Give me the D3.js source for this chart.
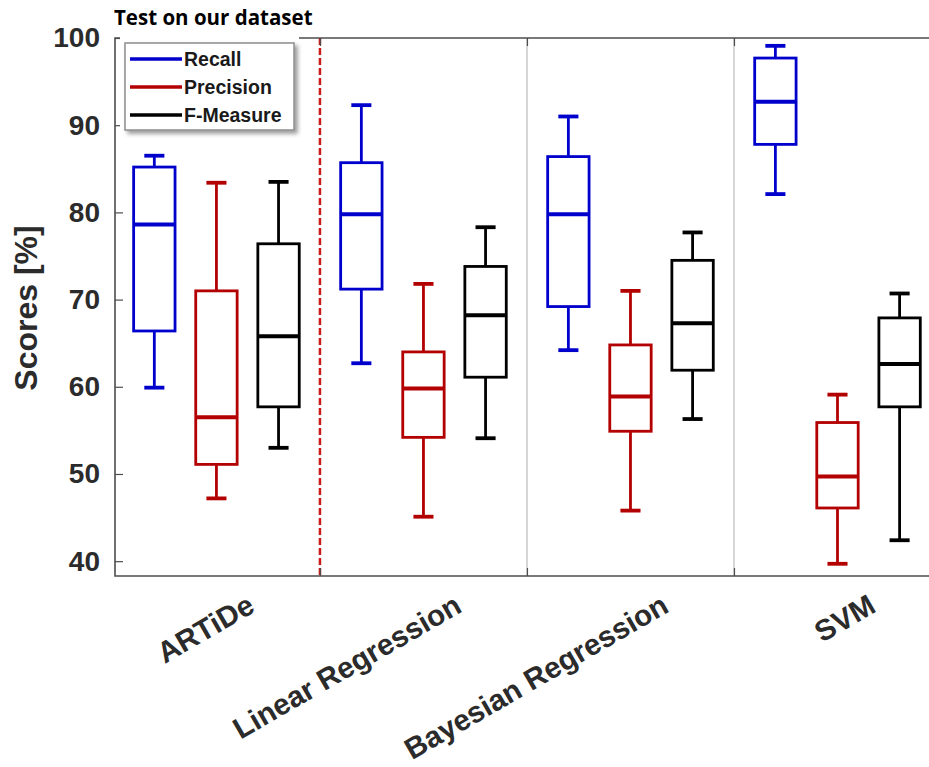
<!DOCTYPE html>
<html>
<head>
<meta charset="utf-8">
<script src="https://cdn.jsdelivr.net/npm/d3@7"></script>
<style>
  html, body { margin: 0; padding: 0; background: #fff; }
  svg { display: block; }
</style>
</head>
<body>
<svg id="chart" width="929" height="767"></svg>
<script>
// Methods compared along the x axis
const categories = ["ARTiDe", "Linear Regression", "Bayesian Regression", "SVM"];
// Metric series drawn side by side within each method
const series = ["Recall", "Precision", "F-Measure"];
// Box statistics per method: [lower whisker, Q1, median, Q3, upper whisker]
const recallStats = [
  [59.9, 66.4, 78.6, 85.2, 86.5],
  [62.7, 71.2, 79.8, 85.7, 92.3],
  [64.2, 69.2, 79.8, 86.4, 91.0],
  [82.1, 87.8, 92.7, 97.7, 99.1]
];
const precisionStats = [
  [47.2, 51.1, 56.5, 71.0, 83.4],
  [45.1, 54.2, 59.8, 64.0, 71.8],
  [45.8, 54.9, 58.9, 64.8, 71.0],
  [39.7, 46.1, 49.7, 55.9, 59.1]
];
const fMeasureStats = [
  [53.0, 57.7, 65.8, 76.4, 83.5],
  [54.1, 61.1, 68.2, 73.8, 78.3],
  [56.3, 61.9, 67.3, 74.5, 77.7],
  [42.4, 57.7, 62.6, 67.9, 70.7]
];
const yTicks = [40, 50, 60, 70, 80, 90, 100];
const titleText = "Test on our dataset";
const yLabelText = "Scores [%]";

const seriesColors = ["#0000cc", "#b30000", "#000000"];
const statsBySeries = [recallStats, precisionStats, fMeasureStats];

const svg = d3.select("#chart");
const FONT = "'Liberation Sans', Arial, Helvetica, sans-serif";

const plot = { left: 115, right: 941, top: 38, bottom: 576 };

// Group positions 1..n on a linear scale; boxes offset within each group
const x = d3.scaleLinear().domain([0.51, categories.length + 0.5]).range([plot.left, plot.right]);
const y = d3.scaleLinear().domain([38.3, 100]).range([plot.bottom, plot.top]);
const offset = d3.scalePoint().domain(series).range([-0.3, 0.3]);
const unit = x(1) - x(0);
const boxW = 0.2 * unit;
const capW = 0.097 * unit;

const defs = svg.append("defs");
const clip = defs.append("clipPath").attr("id", "plotclip");
clip.append("rect").attr("x", plot.left).attr("y", plot.top - 2)
  .attr("width", plot.right - plot.left).attr("height", plot.bottom - plot.top + 4);
const shadow = defs.append("filter").attr("id", "legshadow")
  .attr("x", "-10%").attr("y", "-10%").attr("width", "130%").attr("height", "130%");
shadow.append("feDropShadow").attr("dx", 3).attr("dy", 3).attr("stdDeviation", 2.2)
  .attr("flood-color", "#000").attr("flood-opacity", 0.4);

// Group separators: dashed red after the proposed method, grey between baselines
const bounds = d3.range(1, categories.length).map(i => i + 0.5);
svg.append("g").selectAll("line").data(bounds).join("line")
  .attr("x1", d => x(d)).attr("x2", d => x(d))
  .attr("y1", plot.top).attr("y2", plot.bottom)
  .attr("stroke", (d, i) => i === 0 ? "#cc1a1a" : "#c8c8c8")
  .attr("stroke-width", (d, i) => i === 0 ? 2.5 : 1.5)
  .attr("stroke-dasharray", (d, i) => i === 0 ? "7,3" : null);

// Axes frame
const axisColor = "#4d4d4d";
const yAxis = d3.axisLeft(y).tickValues(yTicks).tickSizeInner(-8).tickSizeOuter(0).tickPadding(15);
const gy = svg.append("g").attr("transform", `translate(${plot.left},0)`).call(yAxis);
gy.select(".domain").remove();
gy.selectAll(".tick line").attr("stroke", axisColor).attr("stroke-width", 1.2);
gy.selectAll(".tick text")
  .attr("font-family", FONT).attr("font-size", 28).attr("font-weight", "bold")
  .attr("fill", "#2b2b2b");

const xTickAxis = d3.axisBottom(x).tickValues(bounds).tickSizeInner(-8).tickSizeOuter(0).tickFormat("");
const gxb = svg.append("g").attr("transform", `translate(0,${plot.bottom})`).call(xTickAxis);
gxb.select(".domain").remove();
gxb.selectAll(".tick line").attr("stroke", axisColor).attr("stroke-width", 1.2);
const xTopAxis = d3.axisTop(x).tickValues(bounds).tickSizeInner(-8).tickSizeOuter(0).tickFormat("");
const gxt = svg.append("g").attr("transform", `translate(0,${plot.top})`).call(xTopAxis);
gxt.select(".domain").remove();
gxt.selectAll(".tick line").attr("stroke", axisColor).attr("stroke-width", 1.2);

svg.append("path")
  .attr("d", `M${plot.left},${plot.top}V${plot.bottom}H${plot.right}V${plot.top}Z`)
  .attr("fill", "none").attr("stroke", axisColor).attr("stroke-width", 1.6);

// Boxes
const boxData = [];
statsBySeries.forEach((stats, si) => {
  stats.forEach((s, ci) => {
    boxData.push({ cat: ci, ser: series[si], color: seriesColors[si],
      lo: s[0], q1: s[1], med: s[2], q3: s[3], hi: s[4] });
  });
});

const boxes = svg.append("g").attr("clip-path", "url(#plotclip)")
  .selectAll("g.box").data(boxData).join("g").attr("class", "box")
  .attr("transform", d => `translate(${x(d.cat + 1 + offset(d.ser))},0)`);

boxes.append("line").attr("x1", 0).attr("x2", 0)
  .attr("y1", d => y(d.hi)).attr("y2", d => y(d.q3))
  .attr("stroke", d => d.color).attr("stroke-width", 2.8);
boxes.append("line").attr("x1", 0).attr("x2", 0)
  .attr("y1", d => y(d.q1)).attr("y2", d => y(d.lo))
  .attr("stroke", d => d.color).attr("stroke-width", 2.8);
boxes.append("line").attr("x1", -capW / 2).attr("x2", capW / 2)
  .attr("y1", d => y(d.hi)).attr("y2", d => y(d.hi))
  .attr("stroke", d => d.color).attr("stroke-width", 3.8);
boxes.append("line").attr("x1", -capW / 2).attr("x2", capW / 2)
  .attr("y1", d => y(d.lo)).attr("y2", d => y(d.lo))
  .attr("stroke", d => d.color).attr("stroke-width", 3.8);
boxes.append("rect").attr("x", -boxW / 2).attr("width", boxW)
  .attr("y", d => y(d.q3)).attr("height", d => y(d.q1) - y(d.q3))
  .attr("fill", "none").attr("stroke", d => d.color).attr("stroke-width", 2.8);
boxes.append("line").attr("x1", -boxW / 2).attr("x2", boxW / 2)
  .attr("y1", d => y(d.med)).attr("y2", d => y(d.med))
  .attr("stroke", d => d.color).attr("stroke-width", 4);

// Category labels, rotated
svg.append("g").selectAll("text").data(categories).join("text")
  .attr("transform", (d, i) => `translate(${x(i + 1) + 40},611) rotate(-30)`)
  .attr("text-anchor", "end")
  .attr("font-family", FONT).attr("font-size", 29.5).attr("font-weight", "bold")
  .attr("fill", "#2b2b2b")
  .text(d => d);

// Y axis label
svg.append("text")
  .attr("transform", "translate(37,308) rotate(-90)")
  .attr("text-anchor", "middle")
  .attr("font-family", FONT).attr("font-size", 32).attr("font-weight", "bold")
  .attr("fill", "#2b2b2b")
  .text(yLabelText);

// Title
svg.append("text")
  .attr("x", 114).attr("y", 25)
  .attr("font-family", "'Open Sans', 'Noto Sans', sans-serif")
  .attr("font-size", 20.5).attr("font-weight", "bold")
  .attr("fill", "#000")
  .text(titleText);

// Legend
const leg = svg.append("g");
leg.append("rect").attr("x", 120).attr("y", 33).attr("width", 179).attr("height", 104).attr("fill", "#fff");
leg.append("rect").attr("x", 125).attr("y", 43).attr("width", 169).attr("height", 87)
  .attr("fill", "#fff").attr("stroke", "#8c8c8c").attr("stroke-width", 1.5)
  .attr("filter", "url(#legshadow)");
const legRow = d3.scalePoint().domain(series).range([59, 115]);
const items = leg.selectAll("g.item").data(series).join("g").attr("class", "item")
  .attr("transform", d => `translate(0,${legRow(d)})`);
items.append("line").attr("x1", 130).attr("x2", 182).attr("y1", 0).attr("y2", 0)
  .attr("stroke", (d, i) => seriesColors[i]).attr("stroke-width", 3.6);
items.append("text").attr("x", 184).attr("y", 0).attr("dy", "0.36em")
  .attr("font-family", FONT).attr("font-size", 19.5).attr("font-weight", "bold")
  .attr("fill", "#1a1a1a")
  .text(d => d);
</script>
</body>
</html>
